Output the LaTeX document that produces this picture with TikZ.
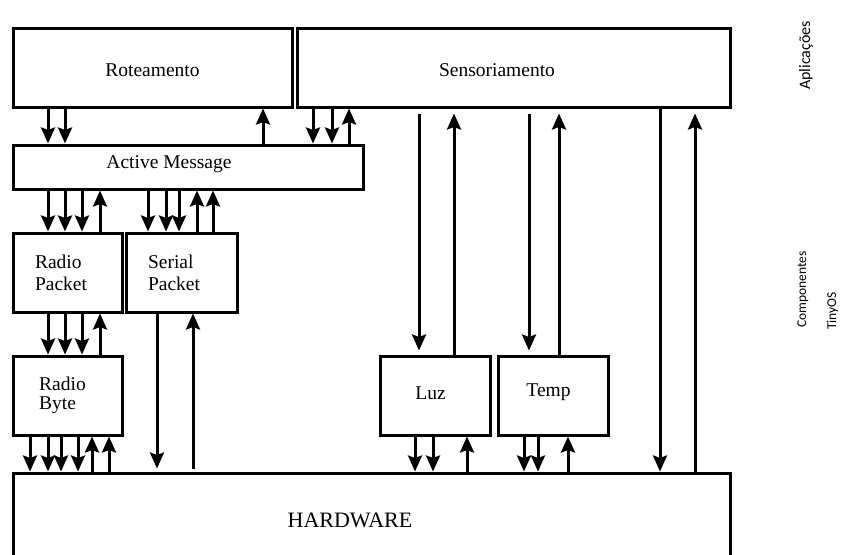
\documentclass[tikz,border=0pt]{standalone}
\usepackage{fontspec}
\setmainfont{Liberation Serif}
\newfontfamily\sidefont{Carlito}
\usetikzlibrary{arrows.meta}

\begin{document}
\begin{tikzpicture}[
        x=1pt, y=-1pt,
        block/.style={rectangle, draw=black, line width=3pt, fill=white, inner sep=0pt, minimum height=79pt},
        lbl/.style={font=\fontsize{19.5}{22}\selectfont, align=left, inner sep=0pt},
        side/.style={font=\sidefont\fontsize{13.5}{16}\selectfont, rotate=90, anchor=base west, inner sep=0pt},
        arrow/.style={-{Stealth[length=16pt, width=14pt, inset=2.5pt]}, line width=3pt}
    ]
        \useasboundingbox (0,0) rectangle (845,554);

        % Applications
        \node[block, minimum width=279pt, label={[lbl, yshift=-3pt]center:Roteamento}] (rot) at (152.5, 67.5) {};
        \node[block, minimum width=433pt, label={[lbl, xshift=-16.5pt, yshift=-3pt]center:Sensoriamento}] (sens) at (513.5, 67.5) {};

        % TinyOS components
        \node[block, minimum width=350pt, minimum height=44pt, label={[lbl, xshift=-19pt, yshift=2.5pt]center:Active Message}] (am) at (188, 167) {};
        \node[block, minimum width=109pt, label={[lbl, xshift=-6.5pt]center:Radio\\Packet}] (rp) at (67.5, 272.5) {};
        \node[block, minimum width=111pt, label={[lbl, xshift=-7.5pt]center:Serial\\Packet}] (sp) at (181.5, 272.5) {};
        \node[block, minimum width=109pt, label={[lbl, xshift=-5pt]center:Radio\\[-3pt]Byte}] (rb) at (67.5, 395.5) {};
        \node[block, minimum width=110pt, label={[lbl, xshift=-4.5pt, yshift=2pt]center:Luz}] (luz) at (435, 395.5) {};
        \node[block, minimum width=110pt, label={[lbl, xshift=-4.5pt, yshift=3pt]center:Temp}] (temp) at (553, 395.5) {};

        % Hardware
        \node[block, minimum width=717pt, minimum height=83pt, label={[lbl, font=\fontsize{22}{25}\selectfont, xshift=-21.5pt, yshift=-5.5pt]center:HARDWARE}] (hw) at (371.5, 514.5) {};

        % Side texts
        \node[side, font=\sidefont\fontsize{16}{18}\selectfont] (apl) at (810, 90) {Aplicações};
        \node[side] (comp) at (806, 328) {Componentes};
        \node[side] (tos) at (836, 330) {TinyOS};

        % Roteamento <-> Active Message
        \draw[arrow] (48,0 |- rot.south) -- (48,0 |- am.north);
        \draw[arrow] (65,0 |- rot.south) -- (65,0 |- am.north);
        \draw[arrow] (263,0 |- am.north) -- (263,0 |- rot.south);

        % Sensoriamento <-> Active Message
        \draw[arrow] (313,0 |- sens.south) -- (313,0 |- am.north);
        \draw[arrow] (332,0 |- sens.south) -- (332,0 |- am.north);
        \draw[arrow] (349,0 |- am.north) -- (349,0 |- sens.south);

        % Active Message <-> packets
        \draw[arrow] (48,0 |- am.south) -- (48,0 |- rp.north);
        \draw[arrow] (65,0 |- am.south) -- (65,0 |- rp.north);
        \draw[arrow] (82,0 |- am.south) -- (82,0 |- rp.north);
        \draw[arrow] (100,0 |- rp.north) -- (100,0 |- am.south);
        \draw[arrow] (148,0 |- am.south) -- (148,0 |- sp.north);
        \draw[arrow] (166,0 |- am.south) -- (166,0 |- sp.north);
        \draw[arrow] (179,0 |- am.south) -- (179,0 |- sp.north);
        \draw[arrow] (197,0 |- sp.north) -- (197,0 |- am.south);
        \draw[arrow] (213,0 |- sp.north) -- (213,0 |- am.south);

        % Radio Packet <-> Radio Byte
        \draw[arrow] (48,0 |- rp.south) -- (48,0 |- rb.north);
        \draw[arrow] (65,0 |- rp.south) -- (65,0 |- rb.north);
        \draw[arrow] (82,0 |- rp.south) -- (82,0 |- rb.north);
        \draw[arrow] (100,0 |- rb.north) -- (100,0 |- rp.south);

        % Radio Byte <-> Hardware
        \draw[arrow] (30,0 |- rb.south) -- (30,0 |- hw.north);
        \draw[arrow] (48,0 |- rb.south) -- (48,0 |- hw.north);
        \draw[arrow] (61,0 |- rb.south) -- (61,0 |- hw.north);
        \draw[arrow] (78,0 |- rb.south) -- (78,0 |- hw.north);
        \draw[arrow] (92,0 |- hw.north) -- (92,0 |- rb.south);
        \draw[arrow] (109,0 |- hw.north) -- (109,0 |- rb.south);

        % Serial Packet <-> Hardware
        \draw[arrow, shorten >=3pt] (157,0 |- sp.south) -- (157,0 |- hw.north);
        \draw[arrow, shorten <=3pt] (193,0 |- hw.north) -- (193,0 |- sp.south);

        % Sensoriamento <-> sensors
        \draw[arrow, shorten <=5pt, shorten >=4pt] (419,0 |- sens.south) -- (419,0 |- luz.north);
        \draw[arrow, shorten >=5pt] (454,0 |- luz.north) -- (454,0 |- sens.south);
        \draw[arrow, shorten <=5pt, shorten >=4pt] (529,0 |- sens.south) -- (529,0 |- temp.north);
        \draw[arrow, shorten >=5pt] (559,0 |- temp.north) -- (559,0 |- sens.south);

        % sensors <-> Hardware
        \draw[arrow] (415,0 |- luz.south) -- (415,0 |- hw.north);
        \draw[arrow] (433,0 |- luz.south) -- (433,0 |- hw.north);
        \draw[arrow] (467,0 |- hw.north) -- (467,0 |- luz.south);
        \draw[arrow] (524,0 |- temp.south) -- (524,0 |- hw.north);
        \draw[arrow] (538,0 |- temp.south) -- (538,0 |- hw.north);
        \draw[arrow] (568,0 |- hw.north) -- (568,0 |- temp.south);

        % Sensoriamento <-> Hardware
        \draw[arrow] (660,0 |- sens.south) -- (660,0 |- hw.north);
        \draw[arrow, shorten >=5pt] (695,0 |- hw.north) -- (695,0 |- sens.south);

    \end{tikzpicture}
\end{document}
